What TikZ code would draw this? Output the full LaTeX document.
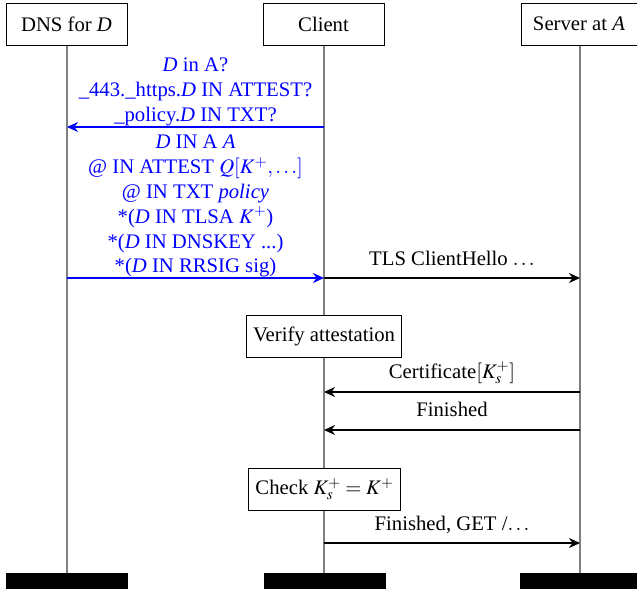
\documentclass[tikz,border=0pt]{standalone}
\usepackage{mathptmx}
\usepackage{fontspec}
\setmainfont{Liberation Serif}
\usetikzlibrary{arrows.meta}
\begin{document}
\begin{tikzpicture}[x=1pt,y=-1pt,
  every node/.style={font=\fontsize{20.7}{24.8}\selectfont},
  inst/.style={draw=black,line width=1pt,minimum width=121pt,minimum height=42pt,inner sep=0pt},
  bar/.style={fill=black,minimum width=122pt,minimum height=16pt,inner sep=0pt},
  life/.style={draw=gray,line width=2pt},
  msg/.style={line width=1.2pt,-{Stealth[length=11pt,width=10pt,inset=3.5pt]}},
  bmsg/.style={msg,blue},
  act/.style={draw=black,fill=white,line width=1pt,inner sep=6.5pt,minimum height=42pt},
  lbl/.style={anchor=base,inner sep=0pt},
  blbl/.style={align=center,text=blue,anchor=south,inner sep=0pt,text depth=0pt}]
\useasboundingbox (0,0) rectangle (637,590);
% lifelines
\coordinate (dT) at (67,45); \coordinate (dB) at (67,573);
\coordinate (cT) at (324,45); \coordinate (cB) at (324,573);
\coordinate (sT) at (580,45); \coordinate (sB) at (580,573);
\draw[life] (dT) -- (dB);
\draw[life] (cT) -- (cB);
\draw[life] (sT) -- (sB);
% heads
\node[inst,fill=white] (dns) at (66.5,24) {DNS for \textit{D}};
\node[inst,fill=white] (cli) at (323.5,24) {Client};
\node[inst,fill=white,minimum width=116pt] (srv) at (579,24) {Server at \textit{A}};
% bars
\node[bar] (dbar) at (67,580.5) {};
\node[bar] (cbar) at (324.5,580.5) {};
\node[bar,minimum width=117pt] (sbar) at (578.5,580.5) {};
% DNS query
\coordinate (q1) at (324,127); \coordinate (q2) at (67,127);
\draw[bmsg] (q1) -- (q2);
\node[blbl] (qtxt) at (195.5,121.7) {\textit{D} in A?\\ \_443.\_https.\textit{D} IN ATTEST?\\ \_policy.\textit{D} IN TXT?};
% DNS answer
\coordinate (a1) at (67,278); \coordinate (a2) at (324,278);
\draw[bmsg] (a1) -- (a2);
\node[blbl] (atxt) at (195.5,273) {\textit{D} IN A \textit{A}\\ @ IN ATTEST $Q[K^{+},\ldots]$\\ @ IN TXT \textit{policy}\\ *(\textit{D} IN TLSA $K^{+}$)\\ *(\textit{D} IN DNSKEY ...)\\ *(\textit{D} IN RRSIG sig)};
% ClientHello
\coordinate (h1) at (324,278); \coordinate (h2) at (580,278);
\draw[msg] (h1) -- (h2);
\node[lbl] (htxt) at (452,265) {TLS ClientHello $\ldots$};
% verify
\node[act] (ver) at (324,336.5) {Verify attestation};
% certificate
\coordinate (c1) at (580,392); \coordinate (c2) at (324,392);
\draw[msg] (c1) -- (c2);
\node[lbl] (ctxt) at (452,378) {Certificate$[K_s^{+}]$};
% finished
\coordinate (f1) at (580,430); \coordinate (f2) at (324,430);
\draw[msg] (f1) -- (f2);
\node[lbl] (ftxt) at (452,416) {Finished};
% check
\node[act] (chk) at (324.5,489) {Check $K_s^{+}=K^{+}$};
% finished get
\coordinate (g1) at (324,543); \coordinate (g2) at (580,543);
\draw[msg] (g1) -- (g2);
\node[lbl] (gtxt) at (452,530) {Finished, GET /$\ldots$};
\end{tikzpicture}
\end{document}
